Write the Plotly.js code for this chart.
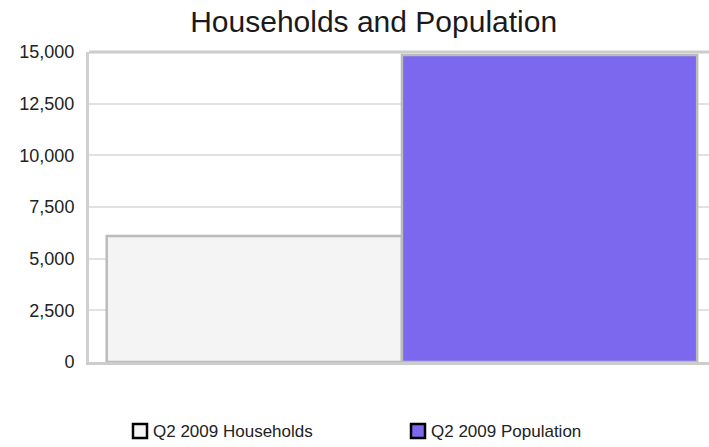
<!DOCTYPE html>
<html>
<head>
<meta charset="utf-8">
<script src="https://cdn.plot.ly/plotly-3.0.1.min.js"></script>
<style>html,body{margin:0;padding:0;background:#fff;}#chart{width:709px;height:447px;}</style>
</head>
<body>
<div id="chart"></div>
<script>
const seriesNames = ["Q2 2009 Households", "Q2 2009 Population"];
const seriesValues = [6100, 14850];
const seriesColors = ["#f4f4f4", "#7b68ee"];
const tickValues = [0, 2500, 5000, 7500, 10000, 12500, 15000];
const tickLabels = ["0", "2,500", "5,000", "7,500", "10,000", "12,500", "15,000"];

// layout geometry (pixels)
const W = 709, H = 447, ML = 89, MT = 52, MB = 85;
const PW = W - ML, PH = H - MT - MB;
const px = v => (v - ML) / PW;             // pixel x -> paper x
const py = v => (H - MB - v) / PH;         // pixel y -> paper y

const traces = seriesNames.map((name, i) => ({
  type: "bar",
  x: [i],
  y: [seriesValues[i]],
  width: 1,
  name: name,
  showlegend: false,
  marker: {color: seriesColors[i], line: {color: "#bbbbbb", width: 2.5}},
  hoverinfo: "skip"
}));

const shapes = [{type: "line", xref: "paper", yref: "paper", x0: 0, x1: 1, y0: 1, y1: 1, line: {color: "#cccccc", width: 3}}];
const annotations = [];
seriesNames.forEach((name, i) => {
  const sx = 133 + i * 278;
  shapes.push({
    type: "rect", xref: "paper", yref: "paper",
    x0: px(sx), x1: px(sx + 14), y0: py(438), y1: py(424),
    fillcolor: seriesColors[i], line: {color: "#000", width: 2.5}
  });
  annotations.push({
    xref: "paper", yref: "paper", x: px(sx + 18), y: py(431.5),
    xanchor: "left", yanchor: "middle", showarrow: false,
    text: name, font: {size: 17, color: "#222"}
  });
});

const layout = {
  width: W,
  height: H,
  margin: {l: ML, r: 0, t: MT, b: MB},
  paper_bgcolor: "#fff",
  plot_bgcolor: "#fff",
  font: {family: "Liberation Sans, Arial, sans-serif", color: "#222", size: 16},
  title: {text: "Households and Population", x: 0.527, xanchor: "center", y: 0.952, yanchor: "middle", font: {size: 30, color: "#1a1a1a"}},
  bargap: 0,
  xaxis: {
    range: [-0.56, 1.54],
    showticklabels: false,
    showgrid: false,
    zeroline: false,
    showline: true,
    linecolor: "#cccccc",
    linewidth: 3,
    fixedrange: true
  },
  yaxis: {
    range: [0, 15000],
    tickvals: tickValues,
    ticktext: tickLabels,
    showgrid: true,
    gridcolor: "#e2e2e2",
    gridwidth: 2,
    zeroline: false,
    showline: true,
    linecolor: "#d0d0d0",
    linewidth: 3,
    ticks: "",
    ticklabelstandoff: 8,
    tickfont: {size: 18, color: "#222"},
    fixedrange: true
  },
  shapes: shapes,
  annotations: annotations,
  showlegend: false,
  hovermode: false
};

Plotly.newPlot("chart", traces, layout, {displayModeBar: false, staticPlot: true});
</script>
</body>
</html>
